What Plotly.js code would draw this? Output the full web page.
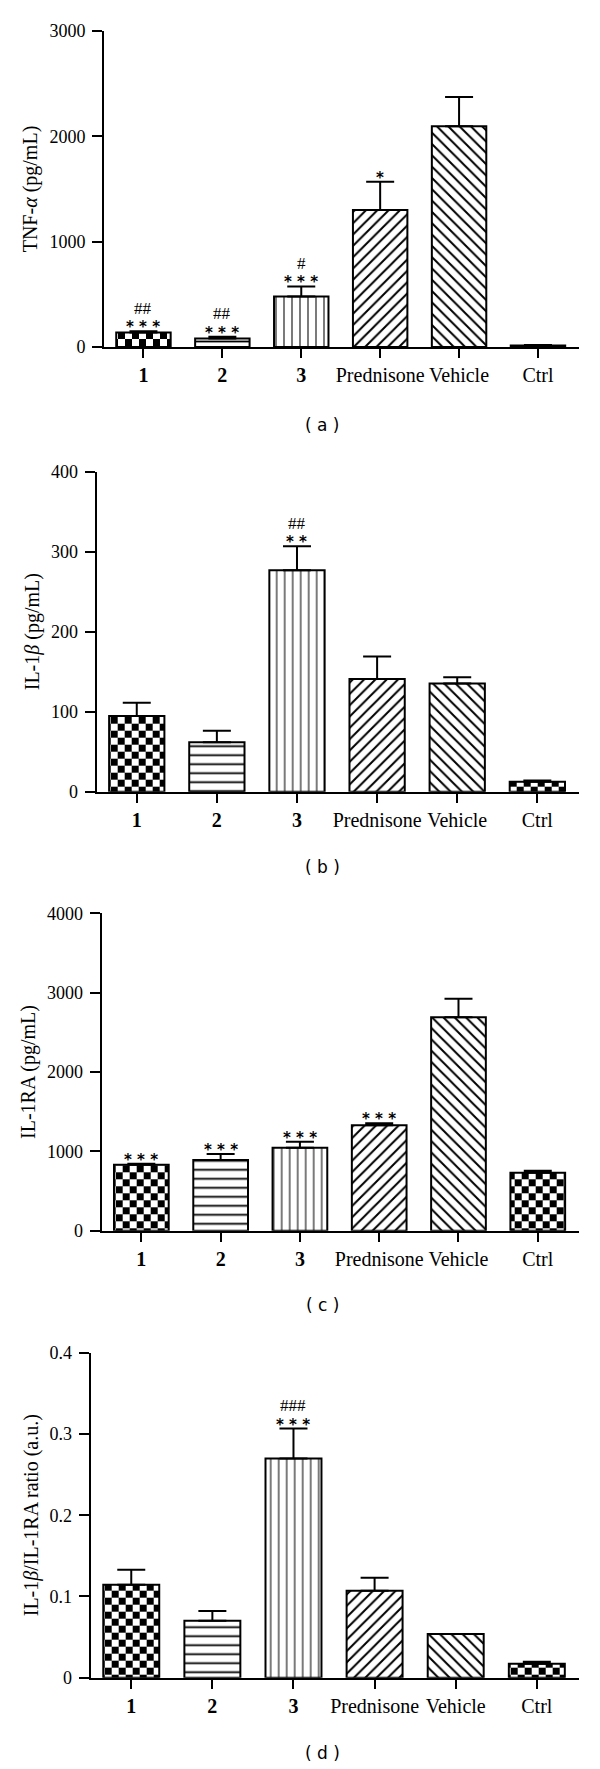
<!DOCTYPE html>
<html><head><meta charset="utf-8">
<script src="https://cdn.plot.ly/plotly-3.0.1.min.js"></script>
<style>html,body{margin:0;padding:0;background:#fff}#chart{width:600px;height:1769px}</style>
</head><body><div id="chart"></div>
<script>
// ---------- data ----------
const categories = ['1', '2', '3', 'Prednisone', 'Vehicle', 'Ctrl'];
const tickLabels = ['<b>1</b>', '<b>2</b>', '<b>3</b>', 'Prednisone', 'Vehicle', 'Ctrl'];

const tnfMean  = [138, 80, 480, 1300, 2095, 15];
const tnfErr   = [11, 18, 95, 268, 278, 4];
const tnfStars = ['* * *', '* * *', '* * *', '*', '', ''];
const tnfHash  = ['##', '##', '#', '', '', ''];

const il1bMean  = [94.6, 61.7, 276.7, 141, 135.4, 12.5];
const il1bErr   = [16.5, 14.5, 30, 28, 7.6, 1.5];
const il1bStars = ['', '', '* *', '', '', ''];
const il1bHash  = ['', '', '##', '', '', ''];

const il1raMean  = [832, 891, 1046, 1328, 2689, 731];
const il1raErr   = [13, 75, 76, 25, 235, 25];
const il1raStars = ['* * *', '* * *', '* * *', '* * *', '', ''];
const il1raHash  = ['', '', '', '', '', ''];

const ratioMean  = [0.1143, 0.070, 0.2697, 0.107, 0.0537, 0.0172];
const ratioErr   = [0.0187, 0.012, 0.037, 0.016, 0, 0.0025];
const ratioStars = ['', '', '* * *', '', '', ''];
const ratioHash  = ['', '', '###', '', '', ''];

const yTitles = ['TNF-<i>α</i> (pg/mL)', 'IL-1<i>β</i> (pg/mL)', 'IL-1RA (pg/mL)', 'IL-1<i>β</i>/IL-1RA ratio (a.u.)'];
const yMax = [3000, 400, 4000, 0.4];
const yDtick = [1000, 100, 1000, 0.1];
const panelLabels = ['( a )', '( b )', '( c )', '( d )'];

// ---------- styles ----------
const patShapes = ['+', '-', '|', '/', '\\', '+'];
const patSizes  = [14, 9, 8, 8, 8, 14];
const patSolid  = [0.5, 0.2, 0.15, 0.25, 0.25, 0.5];
const patFg     = ['rgb(1,1,1)', '#000', '#222', '#000', '#000', 'rgb(1,1,1)'];

const W = 600, H = 1769;
// pixel geometry of each panel: y-axis x, axis right end, top of y axis, zero line, panel label
const geom = [
  {xl: 104,   xr: 579, top: 31,    bot: 347,    lab: 425},
  {xl: 96.7,  xr: 579, top: 471.7, bot: 791.7,  lab: 866.7},
  {xl: 101.7, xr: 579, top: 913.3, bot: 1230.7, lab: 1305},
  {xl: 90.7,  xr: 579, top: 1352.7,bot: 1677.7, lab: 1753}
];

const panels = [
  {mean: tnfMean, err: tnfErr, stars: tnfStars, hash: tnfHash},
  {mean: il1bMean, err: il1bErr, stars: il1bStars, hash: il1bHash},
  {mean: il1raMean, err: il1raErr, stars: il1raStars, hash: il1raHash},
  {mean: ratioMean, err: ratioErr, stars: ratioStars, hash: ratioHash}
];

const serif = 'Liberation Serif, Times New Roman, serif';
const data = [];
const layout = {
  width: W, height: H,
  margin: {l: 0, r: 0, t: 0, b: 0},
  paper_bgcolor: '#fff', plot_bgcolor: 'rgba(0,0,0,0)',
  showlegend: false, annotations: [],
  font: {family: serif, color: '#000'}
};

panels.forEach((p, k) => {
  const sfx = k === 0 ? '' : String(k + 1);
  const g = geom[k];
  data.push({
    type: 'bar', x: categories, y: p.mean,
    xaxis: 'x' + sfx, yaxis: 'y' + sfx,
    width: 0.69,
    marker: {
      color: '#fff', line: {color: '#000', width: 2},
      pattern: {shape: patShapes, size: patSizes, solidity: patSolid, fgcolor: patFg, bgcolor: '#fff', fillmode: 'replace'}
    },
    error_y: {type: 'data', symmetric: false, array: p.err, arrayminus: p.err.map(() => 0),
              color: '#000', thickness: 2, width: 14},
    hoverinfo: 'skip'
  });
  layout['xaxis' + sfx] = {
    domain: [g.xl / W, g.xr / W], anchor: 'y' + sfx,
    type: 'category', range: [-0.5, 5.52],
    tickmode: 'array', tickvals: categories, ticktext: tickLabels,
    showline: true, linewidth: 2, linecolor: '#000',
    ticks: 'outside', ticklen: 9, tickwidth: 2, tickcolor: '#000',
    showgrid: false, zeroline: false, fixedrange: true,
    tickfont: {family: serif, size: 20, color: '#000'}
  };
  layout['yaxis' + sfx] = {
    domain: [1 - g.bot / H, 1 - g.top / H], anchor: 'x' + sfx,
    range: [0, yMax[k]], tick0: 0, dtick: yDtick[k],
    showline: true, linewidth: 2, linecolor: '#000',
    ticks: 'outside', ticklen: 10, tickwidth: 2, tickcolor: '#000',
    ticklabelstandoff: 3,
    showgrid: false, zeroline: false, fixedrange: true,
    tickfont: {family: serif, size: 18, color: '#000'},
    title: {text: yTitles[k], font: {family: serif, size: 20, color: '#000'}, standoff: 6}
  };
  categories.forEach((c, i) => {
    const top = p.mean[i] + p.err[i];
    if (p.stars[i]) layout.annotations.push({
      xref: 'x' + sfx, yref: 'y' + sfx, x: i, y: top, text: '<b>' + p.stars[i] + '</b>',
      showarrow: false, yanchor: 'middle', yshift: 4,
      font: {family: 'DejaVu Sans', size: 15, color: '#000'}
    });
    if (p.hash[i]) layout.annotations.push({
      xref: 'x' + sfx, yref: 'y' + sfx, x: i, y: top, text: p.hash[i],
      showarrow: false, yanchor: 'middle', yshift: 23,
      font: {family: serif, size: 17, color: '#000'}
    });
  });
  layout.annotations.push({
    xref: 'paper', yref: 'paper', x: 322 / W, y: 1 - g.lab / H,
    xanchor: 'center', yanchor: 'middle', showarrow: false,
    text: panelLabels[k], font: {family: 'DejaVu Sans', size: 17, color: '#000'}
  });
});

function checkerize(gd) {
  const ns = 'http://www.w3.org/2000/svg';
  gd.querySelectorAll('pattern').forEach(pt => {
    const html = pt.outerHTML;
    if (html.indexOf('rgb(1, 1, 1)') < 0 && html.indexOf('rgb(1,1,1)') < 0) return;
    while (pt.firstChild) pt.removeChild(pt.firstChild);
    const s = 7;
    pt.setAttribute('width', 2 * s); pt.setAttribute('height', 2 * s);
    [[0, 0, '#fff'], [s, 0, '#000'], [0, s, '#000'], [s, s, '#fff']].forEach(([x, y, c]) => {
      const r = document.createElementNS(ns, 'rect');
      r.setAttribute('x', x); r.setAttribute('y', y);
      r.setAttribute('width', s); r.setAttribute('height', s);
      r.setAttribute('fill', c);
      pt.appendChild(r);
    });
  });
}

const gd = document.getElementById('chart');
Plotly.newPlot(gd, data, layout, {staticPlot: true, displayModeBar: false}).then(() => checkerize(gd));
</script>
</body></html>
